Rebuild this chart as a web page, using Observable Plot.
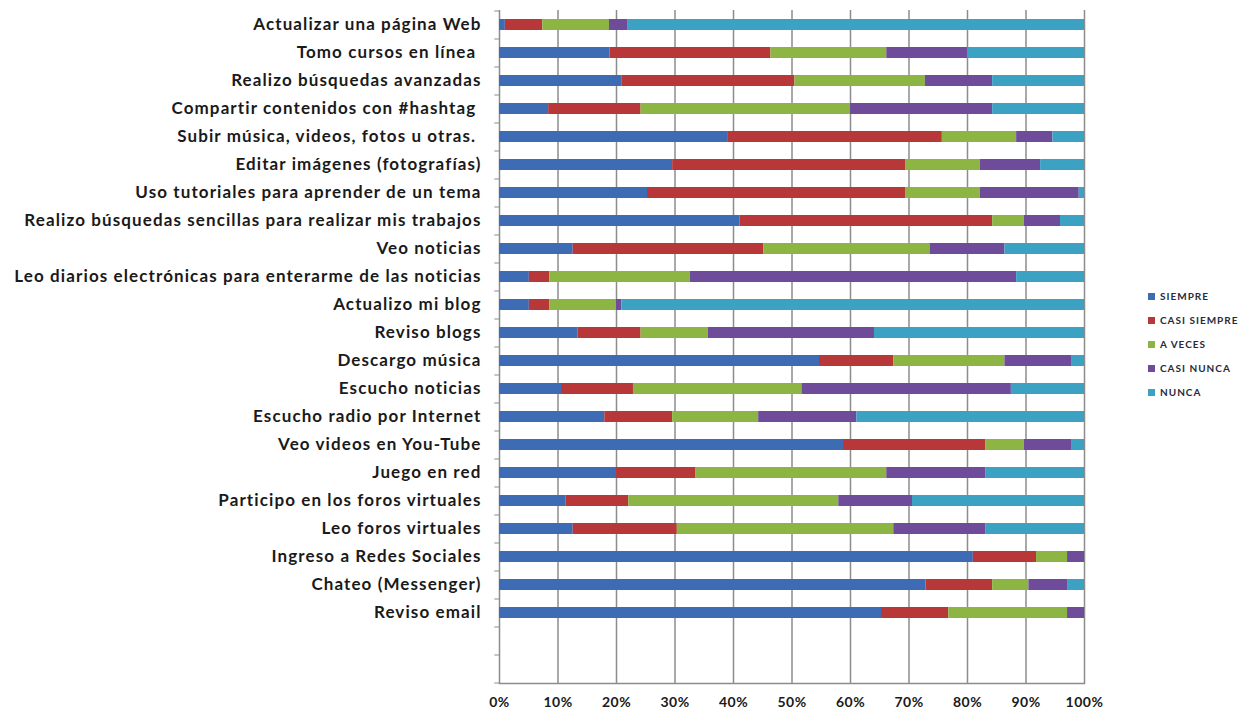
<!DOCTYPE html>
<html>
<head>
<meta charset="utf-8">
<script src="https://cdn.jsdelivr.net/npm/d3@7"></script>
<script src="https://cdn.jsdelivr.net/npm/@observablehq/plot@0.6"></script>
<style>
  html, body { margin: 0; padding: 0; background: #fff; }
  #wrap { position: relative; width: 1243px; height: 709px; }
  #legend { position: absolute; left: 1148px; top: 284px; font-family: Lato, "Open Sans", sans-serif; font-weight: 700; font-size: 10px; letter-spacing: 1px; color: #2a2a3a; }
  #legend .row { display: flex; align-items: center; height: 24px; }
  #legend .sw { width: 7px; height: 7px; margin-right: 5px; }
</style>
</head>
<body>
<div id="wrap"><div id="chart"></div><div id="legend"></div></div>
<script>
const categories = [
  "Actualizar una página Web",
  "Tomo cursos en línea\u00a0",
  "Realizo búsquedas avanzadas",
  "Compartir contenidos con #hashtag\u00a0",
  "Subir música, videos, fotos u otras.\u00a0",
  "Editar imágenes (fotografías)",
  "Uso tutoriales para aprender de un tema",
  "Realizo búsquedas sencillas para realizar mis trabajos",
  "Veo noticias",
  "Leo diarios electrónicas para enterarme de las noticias",
  "Actualizo mi blog",
  "Reviso blogs",
  "Descargo música",
  "Escucho noticias",
  "Escucho radio por Internet",
  "Veo videos en You-Tube",
  "Juego en red",
  "Participo en los foros virtuales",
  "Leo foros virtuales",
  "Ingreso a Redes Sociales",
  "Chateo (Messenger)",
  "Reviso email"
];
const blankRows = [" ", "  "];
const seriesNames = ["SIEMPRE", "CASI SIEMPRE", "A VECES", "CASI NUNCA", "NUNCA"];
const seriesColors = ["#3D6CB5", "#B8383A", "#8DB543", "#6E4C9A", "#3BA2C4"];

const siempre     = [1.0, 18.9, 20.9, 8.4, 39.0, 29.6, 25.3, 41.1, 12.6, 5.1, 5.1, 13.4, 54.7, 10.6, 18.0, 58.8, 20.0, 11.4, 12.6, 81.0, 72.9, 65.3];
const casiSiempre = [6.4, 27.5, 29.6, 15.8, 36.7, 39.9, 44.2, 43.2, 32.6, 3.5, 3.5, 10.8, 12.7, 12.3, 11.6, 24.3, 13.6, 10.7, 17.8, 10.8, 11.4, 11.5];
const aVeces      = [11.4, 19.8, 22.3, 35.8, 12.7, 12.7, 12.7, 5.4, 28.4, 24.0, 11.4, 11.5, 19.0, 28.8, 14.7, 6.6, 32.6, 35.9, 37.0, 5.3, 6.2, 20.3];
const casiNunca   = [3.2, 13.8, 11.5, 24.3, 6.2, 10.3, 16.9, 6.2, 12.8, 55.8, 0.9, 28.4, 11.5, 35.8, 16.8, 8.2, 16.9, 12.6, 15.7, 2.9, 6.6, 2.9];
const nunca       = [78.0, 20.0, 15.7, 15.7, 5.4, 7.5, 0.9, 4.1, 13.6, 11.6, 79.1, 35.9, 2.1, 12.5, 38.9, 2.1, 16.9, 29.4, 16.9, 0.0, 2.9, 0.0];
const xTicks = [0, 10, 20, 30, 40, 50, 60, 70, 80, 90, 100];

const seriesValues = [siempre, casiSiempre, aVeces, casiNunca, nunca];
const data = categories.flatMap((c, i) => seriesNames.map((s, j) => ({category: c, series: s, value: seriesValues[j][i]})));
const yDomain = categories.concat(blankRows);
const gridColor = "#8c8c8c";

const chart = Plot.plot({
  width: 1243,
  height: 709,
  marginLeft: 499,
  marginRight: 159,
  marginTop: 10,
  marginBottom: 26,
  style: {fontFamily: "Lato, 'Open Sans', sans-serif", background: "#fff"},
  x: {domain: [0, 100]},
  y: {domain: yDomain, paddingInner: 0.59, paddingOuter: 0.295},
  color: {domain: seriesNames, range: seriesColors},
  marks: [
    Plot.ruleX(xTicks, {stroke: gridColor, strokeWidth: 1.5}),
    Plot.frame({anchor: "bottom", stroke: gridColor, strokeWidth: 1.5}),
    Plot.ruleY(yDomain, {y: d => d, x1: -0.8, x2: 0, dy: 14, stroke: gridColor, strokeWidth: 1}),
    Plot.ruleY([yDomain[0]], {y: d => d, x1: -0.8, x2: 0, dy: -14, stroke: gridColor, strokeWidth: 1}),
    Plot.barX(data, Plot.stackX({y: "category", x: "value", fill: "series"})),
    Plot.axisY({tickSize: 0, tickPadding: 18, fontSize: 17, fontWeight: "bold", fill: "#1a1a1a", label: null}),
    Plot.axisX(xTicks, {tickSize: 0, tickPadding: 14, tickFormat: d => d + "%", fontSize: 14, fontWeight: "bold", fill: "#1a1a1a", label: null})
  ]
});
d3.select(chart).selectAll('g[aria-label="y-axis tick label"] text').attr("letter-spacing", "1.1px");
d3.select(chart).selectAll('g[aria-label="x-axis tick label"] text').attr("letter-spacing", "0.5px");
document.getElementById("chart").appendChild(chart);

const legend = document.getElementById("legend");
seriesNames.forEach((s, i) => {
  const row = document.createElement("div");
  row.className = "row";
  const sw = document.createElement("span");
  sw.className = "sw";
  sw.style.background = seriesColors[i];
  const t = document.createElement("span");
  t.textContent = s;
  row.appendChild(sw);
  row.appendChild(t);
  legend.appendChild(row);
});
</script>
</body>
</html>
